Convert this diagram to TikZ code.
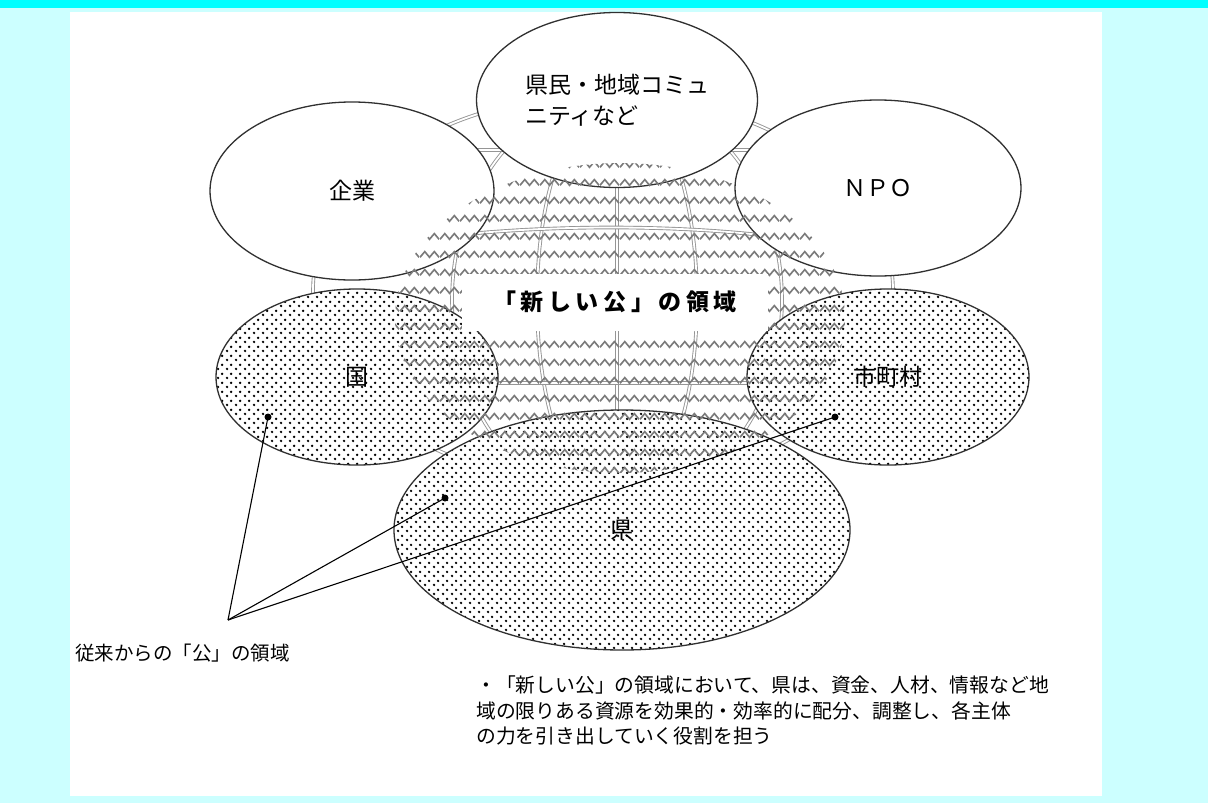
\documentclass[tikz,border=0pt]{standalone}
\usepackage{fontspec}
\setmainfont{Noto Sans CJK JP}
\usetikzlibrary{patterns,shapes.geometric}
\definecolor{bandcyan}{HTML}{00FFFF}
\definecolor{lightcyan}{HTML}{CCFFFF}
\definecolor{edgegray}{HTML}{303030}
\definecolor{globegray}{HTML}{959595}
\definecolor{wavegray}{HTML}{7A7A7A}
\pgfdeclarepatternformonly{mydots}{\pgfpoint{0pt}{0pt}}{\pgfpoint{9pt}{9pt}}{\pgfpoint{9pt}{9pt}}{
  \pgfpathcircle{\pgfpoint{2.25pt}{2.25pt}}{1.45pt}
  \pgfpathcircle{\pgfpoint{6.75pt}{6.75pt}}{1.45pt}
  \pgfusepath{fill}
}
\pgfdeclarepatternformonly{mywaves}{\pgfpoint{0pt}{0pt}}{\pgfpoint{20pt}{18pt}}{\pgfpoint{20pt}{18pt}}{
  \pgfsetlinewidth{1.7pt}
  \pgfpathmoveto{\pgfpoint{0pt}{6pt}}
  \pgfpathlineto{\pgfpoint{5pt}{12pt}}
  \pgfpathlineto{\pgfpoint{10pt}{6pt}}
  \pgfpathlineto{\pgfpoint{15pt}{12pt}}
  \pgfpathlineto{\pgfpoint{20pt}{6pt}}
  \pgfusepath{stroke}
}
\begin{document}
\begin{tikzpicture}[x=1pt,y=-1pt,
  ell/.style={ellipse, draw=edgegray, line width=1.3pt, inner sep=0pt, font=\fontsize{23}{31}\selectfont},
  plainell/.style={ell, fill=white},
  dotell/.style={ell, preaction={fill=white}, pattern=mydots, pattern color=black},
  globe/.style={draw=globegray, line width=0.9pt, double=white, double distance=1.8pt},
  dotmark/.style={circle, fill=black, inner sep=0pt, minimum size=7pt},
  pointer/.style={draw=black, line width=1.1pt},
]
\useasboundingbox (0,0) rectangle (1208,803);
% backgrounds
\fill[lightcyan] (0,0) rectangle (1208,803);
\fill[bandcyan] (0,0) rectangle (1208,7.5);
\fill[white] (70,12) rectangle (1102,796);
% globe wireframe
\draw[globe] (603,290) ellipse [x radius=290pt, y radius=195pt];
\begin{scope}
  \clip (603,290) ellipse [x radius=290pt, y radius=195pt];
  \draw[globe] (617,80) -- (617,500);
  \draw[globe] (617,300) ellipse [x radius=80pt, y radius=205pt];
  \draw[globe] (617,300) ellipse [x radius=165pt, y radius=205pt];
  \draw[globe] (300,150) -- (900,150);
  \draw[globe] (300,383) -- (900,383);
  \draw[globe] (300,265) .. controls (450,215) and (780,215) .. (900,265);
\end{scope}
% upper ellipses
\node[plainell, minimum width=281pt, minimum height=175pt, align=left] (kenmin) at (617,100) {県民・地域コミュ\\ニティなど};
\node[plainell, minimum width=284pt, minimum height=178pt] (kigyo) at (352,191) {企業};
\node[plainell, minimum width=286pt, minimum height=176pt] (npo) at (878,188) {ＮＰＯ};
% lower (dotted) ellipses
\node[dotell, minimum width=282pt, minimum height=176pt] (kuni) at (357,377) {国};
\node[dotell, minimum width=282pt, minimum height=176pt] (shi) at (888,377) {市町村};
\node[dotell, minimum width=456pt, minimum height=240pt] (ken) at (622,530) {県};
% new public area (wave pattern)
\fill[pattern=mywaves, pattern color=wavegray] (620,318) ellipse [x radius=225pt, y radius=155pt];
\node[fill=white, minimum width=306pt, minimum height=57pt, inner sep=0pt,
      font=\fontsize{23}{28}\selectfont\bfseries] (newpub) at (615,302)
      {\addfontfeature{LetterSpace=20}「新しい公」の領域};
% pointers
\node[dotmark] (dkuni) at (268,417) {};
\node[dotmark] (dken) at (445,498) {};
\node[dotmark] (dshi) at (835,417) {};
\coordinate (tip) at (228,620);
\draw[pointer] (tip) -- (dkuni.center);
\draw[pointer] (tip) -- (dken.center);
\draw[pointer] (tip) -- (dshi.center);
% texts
\node[anchor=west, inner sep=0pt, font=\fontsize{19.5}{24}\selectfont] (jurai) at (75,653) {従来からの「公」の領域};
\node[anchor=north west, align=left, inner sep=0pt, font=\fontsize{19.8}{25.5}\selectfont] (note) at (476,676)
  {・「新しい公」の領域において、県は、資金、人材、情報など地\\域の限りある資源を効果的・効率的に配分、調整し、各主体\\の力を引き出していく役割を担う};
\end{tikzpicture}
\end{document}
